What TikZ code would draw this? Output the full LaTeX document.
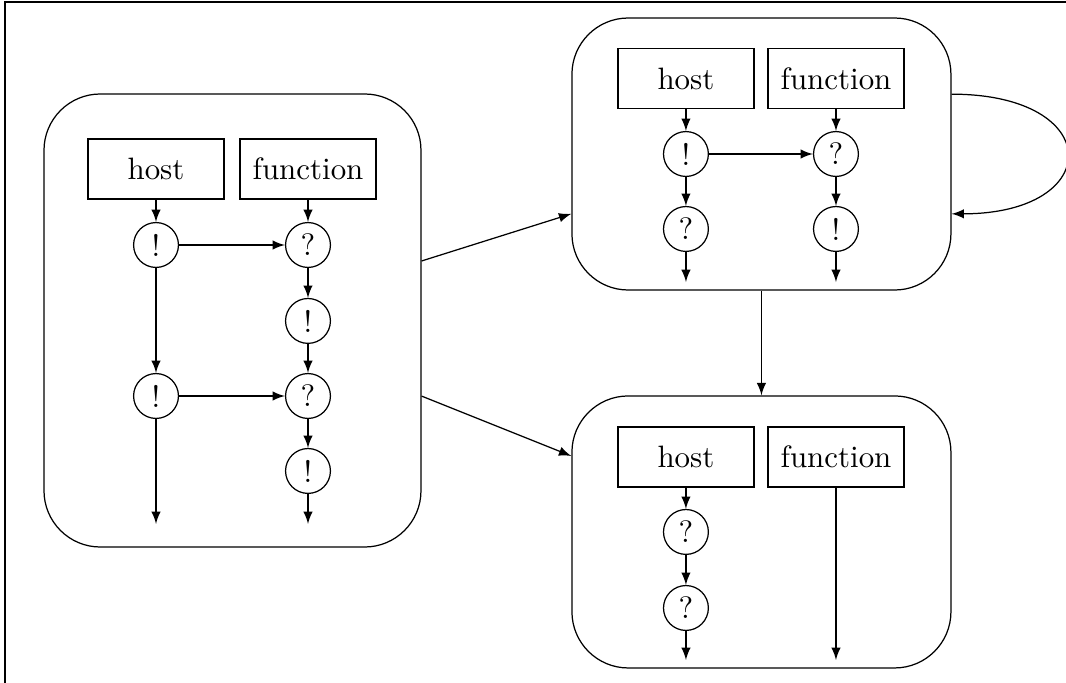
\documentclass[tikz,border=0pt]{standalone}
\usepackage{tikz}
\usetikzlibrary{shapes,arrows,positioning,calc}

\begin{document}
\begin{tikzpicture}[
    >=latex,
    pbox/.style={draw, rectangle, minimum width=1.545cm, minimum height=0.682cm},
    msg/.style={draw, circle, minimum size=0.51cm, inner sep=0pt},
    grp/.style={draw, rectangle, rounded corners=0.64cm}
  ]
  \useasboundingbox (0,0) rectangle (12.114,-7.761);

  % 外框
  \draw[line width=0.8pt] (0.057,-7.761) -- (0.057,-0.023) -- (12.114,-0.023);

  % 左边
  \begin{scope}[shift={(1.773,-1.920)}]
    \node[grp, minimum width=4.284cm, minimum height=5.148cm] (ga) at (0.869,-1.722) {};
    \node[pbox] (ah) at (0,0) {host};
    \node[pbox] (af) at (1.727,0) {function};
    \node[msg] (ah1) at (0,-0.864) {!};
    \node[msg] (ah2) at (0,-2.580) {!};
    \node[msg] (af1) at (1.727,-0.864) {?};
    \node[msg] (af2) at (1.727,-1.727) {!};
    \node[msg] (af3) at (1.727,-2.580) {?};
    \node[msg] (af4) at (1.727,-3.432) {!};
    \coordinate (ahend) at (0,-4.034);
    \coordinate (afend) at (1.727,-4.034);

    \draw[->] (ah) -- (ah1);
    \draw[->] (ah1) -- (ah2);
    \draw[->] (ah2) -- (ahend);

    \draw[->] (af) -- (af1);
    \draw[->] (af1) -- (af2);
    \draw[->] (af2) -- (af3);
    \draw[->] (af3) -- (af4);
    \draw[->] (af4) -- (afend);

    \draw[->] (ah1) -- (af1);
    \draw[->] (ah2) -- (af3);
  \end{scope}

  % 右上
  \begin{scope}[shift={(7.795,-0.892)}]
    \node[grp, minimum width=4.307cm, minimum height=3.091cm] (gb) at (0.858,-0.858) {};
    \node[pbox] (bh) at (0,0) {host};
    \node[pbox] (bf) at (1.705,0) {function};
    \node[msg] (bh1) at (0,-0.858) {!};
    \node[msg] (bh2) at (0,-1.710) {?};
    \node[msg] (bf1) at (1.705,-0.858) {?};
    \node[msg] (bf2) at (1.705,-1.710) {!};
    \coordinate (bhend) at (0,-2.313);
    \coordinate (bfend) at (1.705,-2.313);

    \draw[->] (bh) -- (bh1);
    \draw[->] (bh1) -- (bh2);
    \draw[->] (bh2) -- (bhend);

    \draw[->] (bf) -- (bf1);
    \draw[->] (bf1) -- (bf2);
    \draw[->] (bf2) -- (bfend);

    \draw[->] (bh1) -- (bf1);
  \end{scope}

  % 右下
  \begin{scope}[shift={(7.795,-5.193)}]
    \node[grp, minimum width=4.307cm, minimum height=3.091cm] (gc) at (0.858,-0.852) {};
    \node[pbox] (ch) at (0,0) {host};
    \node[pbox] (cf) at (1.705,0) {function};
    \node[msg] (ch1) at (0,-0.852) {?};
    \node[msg] (ch2) at (0,-1.716) {?};
    \coordinate (chend) at (0,-2.307);
    \coordinate (cfend) at (1.705,-2.307);

    \draw[->] (ch) -- (ch1);
    \draw[->] (ch1) -- (ch2);
    \draw[->] (ch2) -- (chend);
    \draw[->] (cf) -- (cfend);
  \end{scope}

  % 组之间
  \draw[->] (ga) -- (gb);
  \draw[->] (ga) -- (gc);
  \draw[->] (gb) -- (gc);
  \draw[->] ([yshift=0.68cm]gb.east) to[out=0, in=0, looseness=3.3] ([yshift=-0.68cm]gb.east);
\end{tikzpicture}
\end{document}
